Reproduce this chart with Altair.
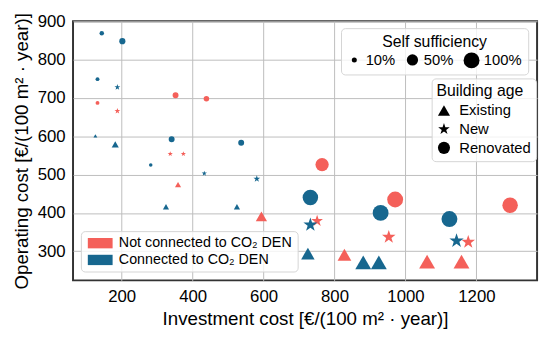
import math
import altair as alt
import pandas as pd

# ---- data ----
inv_conn = [144, 202, 132, 188, 126, 182, 341, 537, 282, 433, 581, 325, 525,
            732, 930, 1124, 732, 1144, 725, 881, 925]
op_conn = [869, 848, 749, 728, 601, 579, 592, 583, 525, 503, 489, 416, 416,
           440, 400, 384, 369, 327, 294, 271, 271]
age_conn = ["Renovated", "Renovated", "Renovated", "New", "Existing", "Existing",
            "Renovated", "Renovated", "Renovated", "New", "New", "Existing", "Existing",
            "Renovated", "Renovated", "Renovated", "New", "New", "Existing", "Existing",
            "Existing"]
ss_conn = [8, 15, 6, 15, 6, 20, 14, 14, 5, 12, 20, 15, 15,
           95, 100, 100, 85, 90, 72, 100, 100]

inv_not = [132, 188, 352, 439, 337, 374, 359, 594, 765, 971, 1295, 751, 953, 1177,
           828, 1061, 1158]
op_not = [687, 666, 707, 698, 554, 554, 474, 391, 526, 435, 420, 379, 337, 324,
          291, 273, 273]
age_not = ["Renovated", "New", "Renovated", "Renovated", "New", "New", "Existing",
           "Existing", "Renovated", "Renovated", "Renovated", "New", "New", "New",
           "Existing", "Existing", "Existing"]
ss_not = [6, 15, 14, 12, 12, 12, 15, 50, 70, 100, 95, 60, 80, 80, 75, 100, 100]

conn_labels = ["Not connected to CO₂ DEN", "Connected to CO₂ DEN"]
age_labels = ["Existing", "New", "Renovated"]
x_ticks = [200, 400, 600, 800, 1000, 1200]
y_ticks = [300, 400, 500, 600, 700, 800, 900]
ss_legend = [10, 50, 100]

RED = "#F4605A"
BLUE = "#17678F"
FONT = "Liberation Sans"

# 5-point star symbol path (unit box)
pts = []
for k in range(10):
    a = math.radians(-90 + 36 * k)
    r = 1.0 if k % 2 == 0 else 0.39
    pts.append(f"{r * math.cos(a):.3f},{r * math.sin(a):.3f}")
STAR = "M" + "L".join(pts) + "Z"
RECT = "M-1,-1H3.8V1H-1Z"

df = pd.concat([
    pd.DataFrame({"inv": inv_not, "op": op_not, "age": age_not, "ss": ss_not,
                  "conn": conn_labels[0], "ord": 0}),
    pd.DataFrame({"inv": inv_conn, "op": op_conn, "age": age_conn, "ss": ss_conn,
                  "conn": conn_labels[1], "ord": 1}),
], ignore_index=True)

box = dict(orient="none", strokeColor="#d4d4d4", fillColor="rgba(255,255,255,0.8)",
           cornerRadius=4, titleFontWeight="normal", titleFont=FONT, labelFont=FONT,
           symbolOpacity=1)

chart = alt.Chart(df).mark_point(filled=True, opacity=1, strokeWidth=0).encode(
    x=alt.X("inv:Q",
            scale=alt.Scale(domain=[63, 1371], nice=False, zero=False),
            axis=alt.Axis(values=x_ticks, format="d",
                          title="Investment cost [€/(100 m² · year)]")),
    y=alt.Y("op:Q",
            scale=alt.Scale(domain=[224, 900], nice=False, zero=False),
            axis=alt.Axis(values=y_ticks, format="d",
                          title="Operating cost [€/(100 m² · year)]")),
    color=alt.Color("conn:N",
                    scale=alt.Scale(domain=conn_labels, range=[RED, BLUE]),
                    legend=alt.Legend(title=None, legendX=8, legendY=213,
                                      symbolType=RECT, symbolSize=110,
                                      labelFontSize=14.5, labelOffset=19,
                                      labelLimit=0,
                                      padding=5, rowPadding=2, **box)),
    shape=alt.Shape("age:N",
                    scale=alt.Scale(domain=age_labels, range=["triangle-up", STAR, "circle"]),
                    legend=alt.Legend(title="Building age", legendX=364, legendY=58,
                                      symbolSize=150, symbolFillColor="black",
                                      symbolStrokeColor="black", symbolStrokeWidth=0,
                                      labelFontSize=15, titleFontSize=16,
                                      labelOffset=8, padding=5, rowPadding=3,
                                      titlePadding=4, **box)),
    size=alt.Size("ss:Q",
                  scale=alt.Scale(domain=[0, 100], range=[0, 260]),
                  legend=alt.Legend(title="Self sufficiency", values=ss_legend,
                                    labelExpr="datum.label + '%'",
                                    direction="horizontal", titleAnchor="middle",
                                    legendX=272, legendY=7,
                                    symbolFillColor="black", symbolStrokeWidth=0,
                                    labelFontSize=15, titleFontSize=16,
                                    labelOffset=4, columnPadding=9, padding=6,
                                    titlePadding=2, **box)),
    order=alt.Order("ord:Q"),
).properties(
    width=471, height=263,
    autosize=alt.AutoSizeParams(type="none"),
    padding={"left": 66, "top": 11, "right": 5, "bottom": 55},
).configure_view(
    stroke="#333333", strokeWidth=2,
).configure_axis(
    labelFont=FONT, titleFont=FONT, labelFontSize=17, titleFontSize=19,
    titleFontWeight="normal", labelColor="black", titleColor="black",
    grid=True, gridColor="#bdbdbd", gridWidth=1, domain=False, ticks=False,
    labelPadding=8, titlePadding=6,
)

chart.save("out.html", embed_options={"renderer": "svg", "actions": False})
